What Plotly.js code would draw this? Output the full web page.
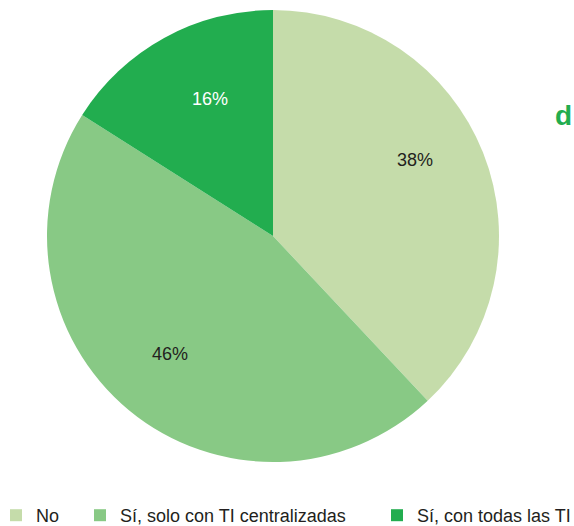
<!DOCTYPE html>
<html>
<head>
<meta charset="utf-8">
<script src="https://cdn.plot.ly/plotly-3.0.1.min.js"></script>
<style>html,body{margin:0;padding:0;background:#fff;}#chart{width:574px;height:526px;}</style>
</head>
<body>
<div id="chart"></div>
<script>
var categories = ["No", "Sí, solo con TI centralizadas", "Sí, con todas las TI"];
var values = [38, 46, 16];
var labelsText = ["38%", "46%", "16%"];
var colors = ["#c5dcaa", "#88c985", "#22ad4f"];
var textColors = ["#231f20", "#231f20", "#ffffff"];

// styling / layout settings (not data)
var W = 574, H = 526;
var pieBox = {left: 47, right: 499, top: 10, bottom: 462};
var labelRadiusFrac = [0.712, 0.693, 0.667];
var labelAngleShift = [-6.6, 1.5, 4.1];
var legendX = [-4, 80, 377];
var FONT = "Arial, 'Liberation Sans', sans-serif";

var pie = {
  type: "pie",
  labels: categories,
  values: values,
  textinfo: "none",
  sort: false,
  direction: "clockwise",
  rotation: 0,
  showlegend: false,
  marker: {colors: colors, line: {width: 0}},
  domain: {x: [pieBox.left / W, pieBox.right / W], y: [1 - pieBox.bottom / H, 1 - pieBox.top / H]},
  hoverinfo: "none"
};

var traces = [pie];
var legendNames = ["legend", "legend2", "legend3"];
categories.forEach(function (c, i) {
  traces.push({
    type: "scatter",
    mode: "markers",
    x: [null], y: [null],
    name: c,
    legend: legendNames[i],
    showlegend: true,
    marker: {symbol: "square", size: 12, color: colors[i], line: {width: 0}},
    hoverinfo: "none"
  });
});

// label annotations computed from the values
var cx = (pieBox.left + pieBox.right) / 2, cy = (pieBox.top + pieBox.bottom) / 2;
var R = (pieBox.right - pieBox.left) / 2;
var total = values.reduce(function (a, b) { return a + b; }, 0);
var cum = 0;
var annotations = [];
values.forEach(function (v, i) {
  var a0 = cum / total * 360, a1 = (cum + v) / total * 360;
  cum += v;
  var mid = ((a0 + a1) / 2 + labelAngleShift[i]) * Math.PI / 180;
  var r = R * labelRadiusFrac[i];
  var px = cx + r * Math.sin(mid), py = cy - r * Math.cos(mid);
  annotations.push({
    text: labelsText[i], xref: "paper", yref: "paper",
    x: px / W, y: 1 - py / H, xanchor: "center", yanchor: "middle",
    showarrow: false,
    font: {family: FONT, size: 18, color: textColors[i]}
  });
});
annotations.push({
  text: "<b>d</b>",
  xref: "paper", yref: "paper",
  x: 1, y: 1 - 115.5 / H,
  xanchor: "right", yanchor: "middle",
  showarrow: false,
  font: {family: FONT, size: 28, color: "#22ad4f"}
});

var layout = {
  width: W,
  height: H,
  margin: {l: 0, r: 0, t: 0, b: 0, autoexpand: false},
  paper_bgcolor: "#ffffff",
  plot_bgcolor: "rgba(0,0,0,0)",
  showlegend: true,
  xaxis: {visible: false},
  yaxis: {visible: false},
  annotations: annotations
};
legendNames.forEach(function (ln, i) {
  layout[ln] = {
    orientation: "h",
    x: legendX[i] / W, xanchor: "left",
    y: 10.5 / H, yanchor: "middle",
    bgcolor: "rgba(0,0,0,0)",
    font: {family: FONT, size: 18, color: "#231f20"}
  };
});

Plotly.newPlot("chart", traces, layout, {displayModeBar: false, staticPlot: true});
</script>
</body>
</html>
